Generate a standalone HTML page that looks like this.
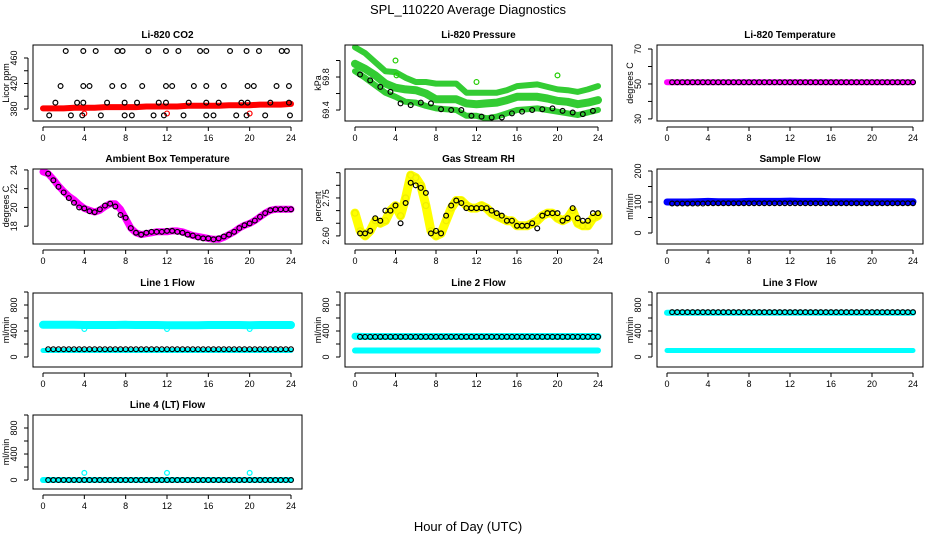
<!DOCTYPE html>
<html><head><meta charset="utf-8"><title>SPL_110220 Average Diagnostics</title>
<style>
html,body{margin:0;padding:0;background:#fff;}
svg{display:block;font-family:"Liberation Sans",Arial,sans-serif;}
</style></head>
<body>
<svg id="chart" width="936" height="540" viewBox="0 0 936 540" xmlns="http://www.w3.org/2000/svg">
<text x="468" y="14" text-anchor="middle" font-size="13">SPL_110220  Average Diagnostics</text>
<text x="468" y="531" text-anchor="middle" font-size="13">Hour of Day (UTC)</text>
</svg>
<script>
// ---- shared time arrays ----
const hours = [0,1,2,3,4,5,6,7,8,9,10,11,12,13,14,15,16,17,18,19,20,21,22,23,24];
const blackHours = [0.5,1.5,2.5,3.5,4.5,5.5,6.5,7.5,8.5,9.5,10.5,11.5,12.5,13.5,14.5,15.5,16.5,17.5,18.5,19.5,20.5,21.5,22.5,23.5];
const halfHours = [0,0.5,1,1.5,2,2.5,3,3.5,4,4.5,5,5.5,6,6.5,7,7.5,8,8.5,9,9.5,10,10.5,11,11.5,12,12.5,13,13.5,14,14.5,15,15.5,16,16.5,17,17.5,18,18.5,19,19.5,20,20.5,21,21.5,22,22.5,23,23.5,24];
const blackHalf = [0.5,1,1.5,2,2.5,3,3.5,4,4.5,5,5.5,6,6.5,7,7.5,8,8.5,9,9.5,10,10.5,11,11.5,12,12.5,13,13.5,14,14.5,15,15.5,16,16.5,17,17.5,18,18.5,19,19.5,20,20.5,21,21.5,22,22.5,23,23.5,24];
const xTicks = [0,4,8,12,16,20,24];

// ---- CO2 ----
const co2Red = [381,381,381,382,382,382,383,383,383,383,384,384,384,384,385,385,385,385,386,386,386,387,387,387,388];
const co2RedOutT = [4,12,20];
const co2RedOutV = [373,373,373];
const co2BlackT = [2.2,3.9,5.1,7.2,7.7,10.2,11.9,13.1,15.2,15.8,18.1,19.7,20.9,23.1,23.6, 1.7,3.9,4.5,6.7,7.8,9.6,11.9,12.5,14.6,15.8,17.5,19.8,20.4,22.6,23.8, 1.2,3.3,3.9,6.2,7.9,9.1,11.2,11.9,14.1,15.8,17.0,19.2,19.8,22.0,23.8, 0.6,2.7,3.8,5.6,7.9,8.6,10.7,11.7,13.6,15.8,16.5,18.7,19.7,21.5,23.9];
const co2BlackV = [471,471,471,471,471,471,471,471,471,471,471,471,471,471,471, 416,416,416,416,416,416,416,416,416,416,416,416,416,416,416, 390,390,390,390,390,390,390,390,390,390,390,390,390,390,390, 370,370,370,370,370,370,370,370,370,370,370,370,370,370,370];

// ---- Pressure ----
const presUpper = [70.16,70.09,69.98,69.87,69.86,69.79,69.74,69.74,69.72,69.72,69.72,69.61,69.61,69.61,69.61,69.64,69.69,69.70,69.71,69.68,69.65,69.64,69.62,69.65,69.69];
const presMiddle = [69.96,69.90,69.82,69.72,69.67,69.65,69.64,69.60,69.53,69.53,69.53,69.48,69.47,69.48,69.49,69.52,69.56,69.56,69.56,69.54,69.51,69.50,69.47,69.49,69.52];
const presLower = [69.87,69.79,69.70,69.61,69.56,69.50,69.49,69.45,69.42,69.41,69.40,69.33,69.33,69.30,69.32,69.36,69.40,69.41,69.42,69.40,69.38,69.36,69.34,69.37,69.40];
const presBlack = [69.83,69.76,69.68,69.62,69.48,69.46,69.49,69.48,69.41,69.40,69.40,69.33,69.32,69.31,69.31,69.36,69.38,69.40,69.41,69.42,69.39,69.37,69.35,69.39];
const presOutT = [4,4.1,12,20];
const presOutV = [70.00,69.82,69.74,69.82];

// ---- Li-820 Temperature ----
const tempMag = [51,51,51,51,51,51,51,51,51,51,51,51,51,51,51,51,51,51,51,51,51,51,51,51,51];
const tempBlack = [51,51,51,51,51,51,51,51,51,51,51,51,51,51,51,51,51,51,51,51,51,51,51,51,51,51,51,51,51,51,51,51,51,51,51,51,51,51,51,51,51,51,51,51,51,51,51,51];

// ---- Ambient ----
const ambMag = [23.8,23.6,23.0,22.3,21.7,21.2,20.8,20.3,19.9,19.7,19.5,19.7,20.1,20.4,20.4,19.8,18.8,17.8,17.3,17.1,17.2,17.3,17.4,17.4,17.4,17.5,17.5,17.4,17.2,17.0,16.9,16.8,16.7,16.6,16.6,16.8,17.1,17.4,17.8,18.1,18.3,18.6,19.0,19.4,19.7,19.8,19.8,19.8,19.8];
const ambBlack = [23.6,22.9,22.2,21.6,21.0,20.5,20.0,19.9,19.6,19.5,19.8,20.2,20.4,20.1,19.2,18.9,17.8,17.3,17.1,17.3,17.4,17.4,17.4,17.5,17.5,17.4,17.3,17.1,17.0,16.8,16.7,16.7,16.6,16.7,16.9,17.1,17.4,17.8,18.1,18.3,18.6,19.0,19.4,19.7,19.8,19.8,19.8,19.8];

// ---- Gas Stream RH ----
const rhYellow = [2.69,2.62,2.60,2.62,2.66,2.65,2.66,2.70,2.72,2.68,2.75,2.84,2.83,2.80,2.72,2.62,2.60,2.61,2.66,2.71,2.74,2.74,2.72,2.71,2.71,2.72,2.71,2.69,2.68,2.67,2.66,2.66,2.64,2.64,2.64,2.65,2.66,2.68,2.69,2.69,2.67,2.66,2.67,2.70,2.65,2.64,2.64,2.67,2.68];
const rhBlack = [2.61,2.61,2.62,2.67,2.66,2.70,2.70,2.72,2.65,2.73,2.81,2.80,2.79,2.77,2.61,2.62,2.61,2.68,2.72,2.74,2.73,2.71,2.71,2.71,2.71,2.71,2.70,2.69,2.68,2.66,2.66,2.64,2.64,2.64,2.65,2.63,2.68,2.69,2.69,2.69,2.66,2.67,2.71,2.67,2.66,2.66,2.69,2.69];

// ---- Sample Flow ----
const sfBlue = [100,100,100,101,102,101,101,101,102,102,102,102,103,102,102,102,101,101,101,101,101,101,101,101,101];
const sfBlack = [95,95,95,95,95,95,95,96,96,96,96,96,96,96,96,96,96,96,96,96,96,96,96,96,96,96,96,96,96,96,96,96,96,96,96,96,96,96,96,96,96,96,96,96,96,96,96,96];

// ---- Line flows ----
const l1CyanHi = [495,495,495,495,492,492,492,492,495,492,492,492,490,490,490,490,492,492,492,492,490,492,492,492,492];
const l1CyanLo = [100,100,100,100,100,100,100,100,100,100,100,100,100,100,100,100,100,100,100,100,100,100,100,100,100];
const l1OutT = [4,12,20]; const l1OutV = [430,430,430];
const l1Black = [120,120,120,120,120,120,120,120,120,120,120,120,120,120,120,120,120,120,120,120,120,120,120,120,120,120,120,120,120,120,120,120,120,120,120,120,120,120,120,120,120,120,120,120,120,120,120,120];
const l2CyanHi = [320,315,315,315,315,315,315,315,315,315,315,315,315,315,315,315,315,315,315,315,315,315,315,315,315];
const l2CyanLo = [100,100,100,100,100,100,100,100,100,100,100,100,100,100,100,100,100,100,100,100,100,100,100,100,100];
const l2Black = [310,310,310,310,310,310,310,310,310,310,310,310,310,310,310,310,310,310,310,310,310,310,310,310,310,310,310,310,310,310,310,310,310,310,310,310,310,310,310,310,310,310,310,310,310,310,310,310];
const l3CyanHi = [680,680,680,680,680,680,680,680,680,680,680,680,680,680,680,680,680,680,680,680,680,680,680,680,680];
const l3CyanLo = [100,100,100,100,100,100,100,100,100,100,100,100,100,100,100,100,100,100,100,100,100,100,100,100,100];
const l3Black = [690,690,690,690,690,690,690,690,690,690,690,690,690,690,690,690,690,690,690,690,690,690,690,690,690,690,690,690,690,690,690,690,690,690,690,690,690,690,690,690,690,690,690,690,690,690,690,690];
const l4Cyan = [0,0,0,0,0,0,0,0,0,0,0,0,0,0,0,0,0,0,0,0,0,0,0,0,0];
const l4OutT = [4,12,20]; const l4OutV = [110,110,110];
const l4Black = [0,0,0,0,0,0,0,0,0,0,0,0,0,0,0,0,0,0,0,0,0,0,0,0,0,0,0,0,0,0,0,0,0,0,0,0,0,0,0,0,0,0,0,0,0,0,0,0];

// ---- layout ----
const NS = 'http://www.w3.org/2000/svg';
const svg = document.getElementById('chart');
const cols = [{l:33,r:302,x0:43,x24:291},{l:345,r:612,x0:355,x24:598},{l:657,r:923,x0:667,x24:913}];
const rows = [{t:45,b:121},{t:169,b:244},{t:293,b:367},{t:415,b:489}];

function mk(tag, attrs, parent){
  const e = document.createElementNS(NS, tag);
  for (const k in attrs) e.setAttribute(k, attrs[k]);
  (parent||svg).appendChild(e);
  return e;
}

function panel(cfg){
  const c = cols[cfg.col], r = rows[cfg.row];
  const g = mk('g', {});
  
  
  const xs = t => c.x0 + (c.x24 - c.x0) * t / 24;
  const ys = v => r.b - (v - cfg.yLo) / (cfg.yHi - cfg.yLo) * (r.b - r.t);
  const tt = mk('text', {x:(c.l+c.r)/2, y:r.t-7, 'text-anchor':'middle', 'font-size':'10', 'font-weight':'bold'}, g);
  tt.textContent = cfg.title;
  
  
  const xa = mk('g', {}, g);
  
  
  mk('line', {x1:xs(0), x2:xs(24), y1:r.b+6, y2:r.b+6, stroke:'#000', 'stroke-width':1}, xa);
  xTicks.forEach(t => {
    mk('line', {x1:xs(t), x2:xs(t), y1:r.b+6, y2:r.b+10, stroke:'#000', 'stroke-width':1}, xa);
    const lb = mk('text', {x:xs(t), y:r.b+20, 'text-anchor':'middle', 'font-size':'9'}, xa);
    lb.textContent = t;
    
    
  });
  const ya = mk('g', {}, g);
  
  
  const ax = c.l - 5;
  mk('line', {x1:ax, x2:ax, y1:ys(cfg.yTicks[0]), y2:ys(cfg.yTicks[cfg.yTicks.length-1]), stroke:'#000', 'stroke-width':1}, ya);
  cfg.yTicks.forEach(v => {
    mk('line', {x1:ax-4, x2:ax, y1:ys(v), y2:ys(v), stroke:'#000', 'stroke-width':1}, ya);
  });
  cfg.yLabels.forEach(v => {
    const lx = ax - 11, ly = ys(v);
    const lb = mk('text', {x:lx, y:ly, 'text-anchor':'middle', 'font-size':'9', transform:`rotate(-90 ${lx} ${ly})`}, ya);
    lb.textContent = cfg.fmt ? cfg.fmt(v) : v;
    
    
  });
  const yx = c.l - 24, yy = (r.t + r.b) / 2;
  const yt = mk('text', {x:yx, y:yy, 'text-anchor':'middle', 'font-size':'9', transform:`rotate(-90 ${yx} ${yy})`}, ya);
  yt.textContent = cfg.ylab;
  
  
  const cid = 'clip' + cfg.col + cfg.row;
  const cp = mk('clipPath', {id:cid}, g);
  mk('rect', {x:c.l, y:r.t, width:c.r-c.l, height:r.b-r.t}, cp);
  const pg = mk('g', {'clip-path':`url(#${cid})`}, g);
  
  
  cfg.series.forEach(s => {
    if (s.type === 'band') {
      const pts = s.t.map((t,i) => xs(t).toFixed(1) + ',' + ys(s.v[i]).toFixed(1)).join(' ');
      const pl = mk('polyline', {points:pts, fill:'none', stroke:s.color, 'stroke-width':s.w, 'stroke-linejoin':'round', 'stroke-linecap':'round'}, pg);
      
      
    } else {
      const sg = mk('g', {}, pg);
      
      
      s.t.forEach((t,i) => {
        const ci = mk('circle', {cx:xs(t), cy:ys(s.v[i]), r:s.r||2.4, fill:'none', stroke:s.color, 'stroke-width':s.sw||1.2}, sg);
        
        
      });
    }
  });
  const bx = mk('rect', {x:c.l, y:r.t, width:c.r-c.l, height:r.b-r.t, fill:'none', stroke:'#000', 'stroke-width':1}, g);
  
  
}

const flowTicks = [0,200,400,600,800,1000];
const flowLabels = [0,400,800];

panel({name:'co2-panel', title:'Li-820 CO2', col:0, row:0, yLo:361.2, yHi:480.4, yTicks:[380,400,420,440,460], yLabels:[380,420,460], ylab:'Licor ppm',
  series:[{type:'band', t:hours, v:co2Red, color:'#ff0000', w:6, name:'co2-red-series'},
          {type:'pts', t:co2RedOutT, v:co2RedOutV, color:'#ff0000', name:'co2-red-outliers'},
          {type:'pts', t:co2BlackT, v:co2BlackV, color:'#000', name:'co2-black-series'}]});
panel({name:'pressure-panel', title:'Li-820 Pressure', col:1, row:0, yLo:69.267, yHi:70.188, yTicks:[69.4,69.6,69.8,70.0], yLabels:[69.4,69.8], ylab:'kPa', fmt:v=>v.toFixed(1),
  series:[{type:'band', t:hours, v:presUpper, color:'#33cc33', w:6, name:'pressure-upper-series'},
          {type:'band', t:hours, v:presMiddle, color:'#33cc33', w:8, name:'pressure-middle-series'},
          {type:'band', t:hours, v:presLower, color:'#33cc33', w:6, name:'pressure-lower-series'},
          {type:'pts', t:presOutT, v:presOutV, color:'#22cc00', name:'pressure-outliers'},
          {type:'pts', t:blackHours, v:presBlack, color:'#000', name:'pressure-black-series'}]});
panel({name:'temperature-panel', title:'Li-820 Temperature', col:2, row:0, yLo:28.8, yHi:72.3, yTicks:[30,40,50,60,70], yLabels:[30,50,70], ylab:'degrees C',
  series:[{type:'band', t:hours, v:tempMag, color:'#ff00ff', w:6, name:'temperature-magenta-series'},
          {type:'pts', t:blackHalf, v:tempBlack, color:'#000', name:'temperature-black-series'}]});
panel({name:'ambient-panel', title:'Ambient Box Temperature', col:0, row:1, yLo:16.1, yHi:24.1, yTicks:[18,20,22,24], yLabels:[18,20,22,24], ylab:'degrees C',
  series:[{type:'band', t:halfHours, v:ambMag, color:'#ff00ff', w:7, name:'ambient-magenta-series'},
          {type:'pts', t:blackHalf, v:ambBlack, color:'#000', name:'ambient-black-series'}]});
panel({name:'rh-panel', title:'Gas Stream RH', col:1, row:1, yLo:2.568, yHi:2.8645, yTicks:[2.60,2.65,2.70,2.75,2.80,2.85], yLabels:[2.60,2.75], ylab:'percent', fmt:v=>v.toFixed(2),
  series:[{type:'band', t:halfHours, v:rhYellow, color:'#ffff00', w:9, name:'rh-yellow-series'},
          {type:'pts', t:halfHours, v:rhYellow, color:'#eeee00', r:3, name:'rh-yellow-points'},
          {type:'pts', t:blackHalf, v:rhBlack, color:'#000', name:'rh-black-series'}]});
panel({name:'sample-flow-panel', title:'Sample Flow', col:2, row:1, yLo:-35.5, yHi:206.5, yTicks:[0,50,100,150,200], yLabels:[0,100,200], ylab:'ml/min',
  series:[{type:'band', t:hours, v:sfBlue, color:'#0000ff', w:7, name:'sample-flow-blue-series'},
          {type:'pts', t:blackHalf, v:sfBlack, color:'#000', name:'sample-flow-black-series'}]});
panel({name:'line1-panel', title:'Line 1 Flow', col:0, row:2, yLo:-153.8, yHi:984.6, yTicks:flowTicks, yLabels:flowLabels, ylab:'ml/min',
  series:[{type:'band', t:hours, v:l1CyanHi, color:'#00ffff', w:8, name:'line1-cyan-high'},
          {type:'band', t:hours, v:l1CyanLo, color:'#00ffff', w:5, name:'line1-cyan-low'},
          {type:'pts', t:l1OutT, v:l1OutV, color:'#00ffff', name:'line1-outliers'},
          {type:'pts', t:blackHalf, v:l1Black, color:'#000', name:'line1-black-series'}]});
panel({name:'line2-panel', title:'Line 2 Flow', col:1, row:2, yLo:-153.8, yHi:984.6, yTicks:flowTicks, yLabels:flowLabels, ylab:'ml/min',
  series:[{type:'band', t:hours, v:l2CyanHi, color:'#00ffff', w:7, name:'line2-cyan-high'},
          {type:'band', t:hours, v:l2CyanLo, color:'#00ffff', w:6, name:'line2-cyan-low'},
          {type:'pts', t:blackHalf, v:l2Black, color:'#000', name:'line2-black-series'}]});
panel({name:'line3-panel', title:'Line 3 Flow', col:2, row:2, yLo:-153.8, yHi:984.6, yTicks:flowTicks, yLabels:flowLabels, ylab:'ml/min',
  series:[{type:'band', t:hours, v:l3CyanHi, color:'#00ffff', w:6, name:'line3-cyan-high'},
          {type:'band', t:hours, v:l3CyanLo, color:'#00ffff', w:5, name:'line3-cyan-low'},
          {type:'pts', t:blackHalf, v:l3Black, color:'#000', name:'line3-black-series'}]});
panel({name:'line4-panel', title:'Line 4 (LT) Flow', col:0, row:3, yLo:-138, yHi:1000, yTicks:flowTicks, yLabels:flowLabels, ylab:'ml/min',
  series:[{type:'band', t:hours, v:l4Cyan, color:'#00ffff', w:6, name:'line4-cyan-series'},
          {type:'pts', t:l4OutT, v:l4OutV, color:'#00ffff', name:'line4-outliers'},
          {type:'pts', t:blackHalf, v:l4Black, color:'#000', name:'line4-black-series'}]});
</script>
</body></html>
